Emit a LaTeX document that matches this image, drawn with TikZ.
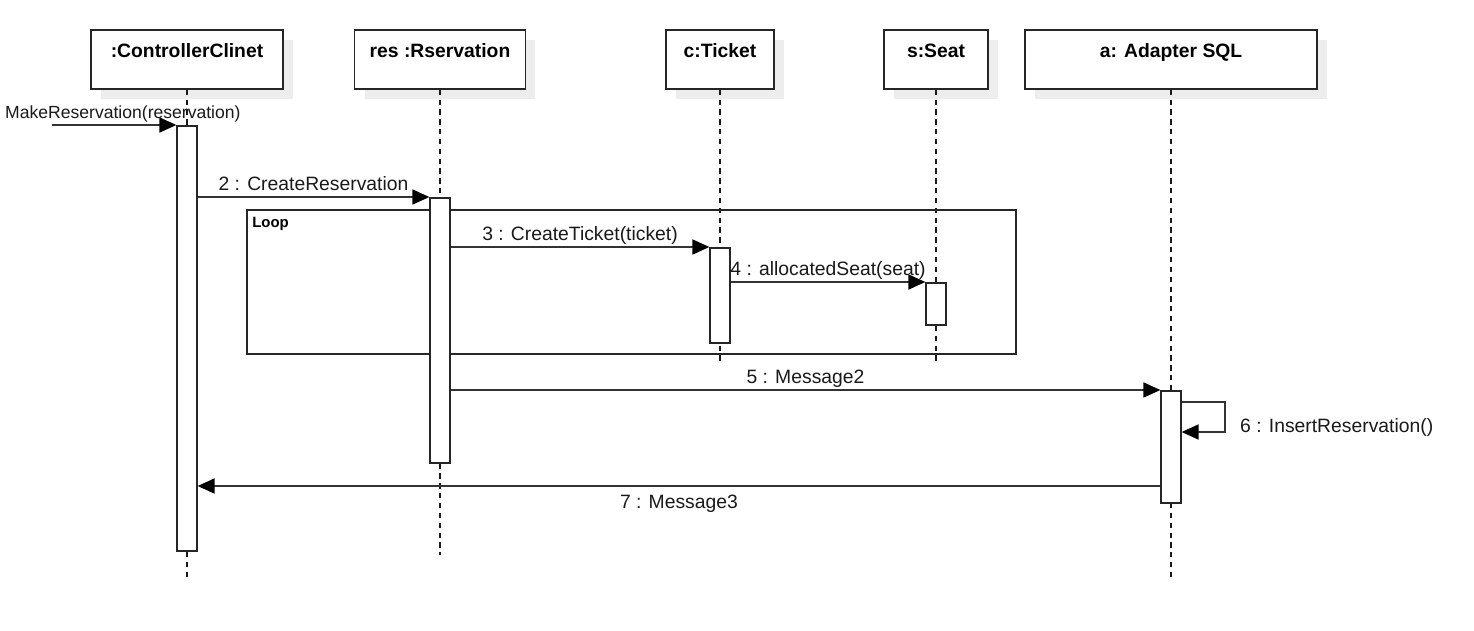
\documentclass[tikz,border=0pt]{standalone}
\usepackage{fontspec}
\setmainfont{Liberation Sans}
\usepackage{tikz}
\usetikzlibrary{arrows.meta}
\usetikzlibrary{shadows}

\tikzset{
	object/.style={draw=black!85, line width=1pt, fill=white, inner xsep=0pt, inner ysep=0pt,
		text height=0.56cm, text depth=0.62cm, anchor=north,
		font=\fontsize{11}{13}\selectfont\bfseries,
		general shadow={fill=black!7, shadow xshift=0.2cm, shadow yshift=-0.2cm}},
	activation/.style={draw=black!85, line width=1pt, fill=white, minimum width=0.39cm, inner sep=0pt, anchor=north},
	lifeline/.style={black!90, line width=1pt, dash pattern=on 3pt off 2.6pt},
	msg/.style={draw=black!80, line width=1pt, -{Triangle[length=0.34cm,width=0.3cm,color=black]}},
	msglabel/.style={font=\fontsize{11}{13}\selectfont, text=black!90, text depth=0pt},
	framebox/.style={draw=black!85, line width=1pt, inner sep=0pt, anchor=north west},
}

\begin{document}
\begin{tikzpicture}[x=0.02cm, y=-0.02cm]
	\useasboundingbox (0,0) rectangle (1474,630);
	% objects
	\node[object, minimum width=3.84cm] (ctrl) at (187,29) {:ControllerClinet};
	\node[object, minimum width=3.42cm] (res) at (440,29) {res :Rservation};
	\node[object, minimum width=2.16cm] (tkt) at (720,29) {c:Ticket};
	\node[object, minimum width=2.08cm] (seat) at (936,29) {s:Seat};
	\node[object, minimum width=5.84cm] (adp) at (1171,29) {a: Adapter SQL};
	% lifelines
	\draw[lifeline] (ctrl.south) -- (ctrl.south |- 0,580);
	\draw[lifeline] (res.south) -- (res.south |- 0,555);
	\draw[lifeline] (tkt.south) -- (tkt.south |- 0,363);
	\draw[lifeline] (seat.south) -- (seat.south |- 0,363);
	\draw[lifeline] (adp.south) -- (adp.south |- 0,580);
	% loop frame
	\node[framebox, minimum width=15.38cm, minimum height=2.88cm] (loop) at (246,209) {};
	\node[anchor=north west, font=\fontsize{8.5}{10}\selectfont\bfseries, inner xsep=0.12cm, inner ysep=0.15cm] (looplabel) at (loop.north west) {Loop};
	% activations
	\node[activation, minimum height=8.5cm] (act1) at (187,125) {};
	\node[activation, minimum height=5.3cm] (act2) at (440,197) {};
	\node[activation, minimum height=1.9cm] (act3) at (720,247) {};
	\node[activation, minimum height=0.84cm] (act4) at (936,282) {};
	\node[activation, minimum height=2.24cm] (act5) at (1171,390) {};
	% messages
	\coordinate (found) at (52,125);
	\draw[msg] (found) -- (act1.north west) node[msglabel, above, pos=0.57, font=\fontsize{10}{12}\selectfont] {MakeReservation(reservation)};
	\draw[msg] (act1.east |- act2.north) -- (act2.north west) node[msglabel, above, midway] {2 : CreateReservation};
	\draw[msg] (act2.east |- act3.north) -- (act3.north west) node[msglabel, above, midway] {3 : CreateTicket(ticket)};
	\draw[msg] (act3.east |- act4.north) -- (act4.north west) node[msglabel, above, midway] {4 : allocatedSeat(seat)};
	\draw[msg] (act2.east |- act5.north) -- (act5.north west) node[msglabel, above, midway] {5 : Message2};
	\draw[msg] (act5.east |- 0,402) -- (1225,402) -- (1225,432)
		node[msglabel, anchor=base west, xshift=0.17cm] (selflabel) {6 : InsertReservation()}
		-- (act5.east |- 0,432);
	\draw[msg] (act5.west |- 0,486) -- (act1.east |- 0,486) node[msglabel, below, midway, yshift=-0.05cm] {7 : Message3};
\end{tikzpicture}
\end{document}
